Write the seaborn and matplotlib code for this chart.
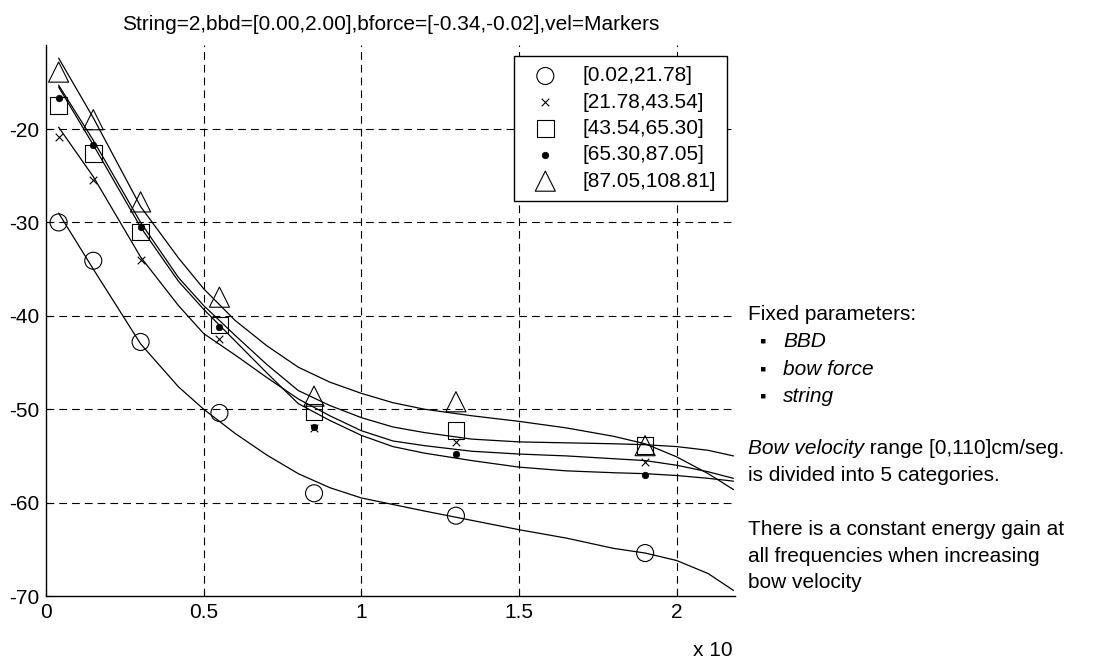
import numpy as np
import pandas as pd
import matplotlib
matplotlib.use("Agg")
import matplotlib.pyplot as plt
import seaborn as sns

# ---------------- data ----------------
marker_x = [0.04, 0.15, 0.30, 0.55, 0.85, 1.30, 1.90]
labels = ["[0.02,21.78]", "[21.78,43.54]", "[43.54,65.30]", "[65.30,87.05]", "[87.05,108.81]"]

pts_c1 = [-30.0, -34.1, -42.8, -50.4, -59.0, -61.4, -65.4]
pts_c2 = [-20.8, -25.5, -34.0, -42.5, -52.0, -53.5, -55.7]
pts_c3 = [-17.5, -22.6, -31.0, -41.0, -50.3, -52.3, -53.9]
pts_c4 = [-16.7, -21.7, -30.5, -41.2, -51.9, -54.8, -57.0]
pts_c5 = [-13.9, -19.0, -27.8, -38.0, -48.6, -49.2, -53.9]

curve_x = [0.04, 0.15, 0.30, 0.42, 0.50, 0.60, 0.70, 0.80, 0.90, 1.00,
           1.10, 1.20, 1.35, 1.50, 1.65, 1.80, 1.90, 2.00, 2.10, 2.18]
fit_c1 = [-29.0, -35.0, -43.0, -47.6, -50.0, -52.6, -54.9, -56.9, -58.4, -59.5,
          -60.2, -60.9, -61.9, -62.9, -63.8, -64.9, -65.4, -66.2, -67.6, -69.4]
fit_c2 = [-19.8, -25.1, -33.7, -38.9, -41.9, -44.2, -46.6, -48.9, -50.7, -52.3,
          -53.4, -53.9, -54.5, -54.8, -55.0, -55.3, -55.5, -56.0, -56.7, -57.4]
fit_c3 = [-15.3, -21.2, -30.0, -35.9, -38.9, -42.1, -45.2, -48.0, -49.6, -50.9,
          -51.9, -52.5, -53.2, -53.5, -53.6, -53.7, -53.8, -54.0, -54.4, -55.0]
fit_c4 = [-15.5, -21.7, -30.5, -36.3, -39.3, -42.7, -46.1, -49.4, -51.2, -52.8,
          -54.0, -54.7, -55.5, -56.2, -56.6, -56.8, -56.9, -57.1, -57.4, -57.7]
fit_c5 = [-12.4, -18.8, -28.3, -33.8, -37.1, -40.5, -43.2, -45.5, -47.1, -48.3,
          -49.3, -50.0, -50.7, -51.3, -52.0, -52.9, -53.7, -55.1, -56.9, -58.6]

x_ticks = [0, 0.5, 1, 1.5, 2]
x_tick_labels = ["0", "0.5", "1", "1.5", "2"]
y_ticks = [-70, -60, -50, -40, -30, -20]
y_tick_labels = ["-70", "-60", "-50", "-40", "-30", "-20"]

title_text = "String=2,bbd=[0.00,2.00],bforce=[-0.34,-0.02],vel=Markers"

# ---------------- style ----------------
sns.set_theme(style="white")
plt.rcParams["font.family"] = ["Liberation Sans", "DejaVu Sans"]
plt.rcParams["text.color"] = "black"
plt.rcParams["axes.labelcolor"] = "black"
plt.rcParams["xtick.color"] = "black"
plt.rcParams["ytick.color"] = "black"
FS = 15

points = [pts_c1, pts_c2, pts_c3, pts_c4, pts_c5]
fits = [fit_c1, fit_c2, fit_c3, fit_c4, fit_c5]
mstyles = [
    dict(marker="o", s=150, facecolor="none", edgecolor="black", linewidth=0.8),
    dict(marker="x", s=30, color="black", linewidth=0.8),
    dict(marker="s", s=140, facecolor="none", edgecolor="black", linewidth=0.8),
    dict(marker="o", s=22, color="black", edgecolor="black", linewidth=0.5),
    dict(marker="^", s=210, facecolor="none", edgecolor="black", linewidth=0.8),
]

fig = plt.figure(figsize=(11.18, 6.61), dpi=100)
ax = fig.add_axes([46 / 1118, 1 - 596 / 661, (735 - 46) / 1118, (596 - 45) / 661])

for xs in x_ticks[1:]:
    ax.axvline(xs, color="black", linestyle=(0, (7, 4.5)), linewidth=0.8, zorder=0)
for ys in y_ticks[1:]:
    ax.axhline(ys, color="black", linestyle=(0, (7, 4.5)), linewidth=0.8, zorder=0)

for fit in fits:
    sns.lineplot(x=curve_x, y=fit, ax=ax, color="black", linewidth=0.9, zorder=2)

for pts, lab, st in zip(points, labels, mstyles):
    sns.scatterplot(x=marker_x, y=pts, ax=ax, label=lab, zorder=3, **st)

ax.set_xlim(0, 2.185)
ax.set_ylim(-70, -11)
ax.set_xticks(x_ticks)
ax.set_xticklabels(x_tick_labels)
ax.set_yticks(y_ticks)
ax.set_yticklabels(y_tick_labels)
ax.tick_params(axis="both", direction="in", length=4, width=0.8, colors="black",
               labelcolor="black", labelsize=FS, pad=5, left=True, bottom=True)
for side in ["top", "right"]:
    ax.spines[side].set_visible(False)
for side in ["left", "bottom"]:
    ax.spines[side].set_color("black")
    ax.spines[side].set_linewidth(1.0)
ax.grid(False)
ax.set_xlabel("")
ax.set_ylabel("")

ax.set_title(title_text, fontsize=FS, pad=11, color="black")

leg = ax.legend(loc="upper right", bbox_to_anchor=(0.988, 0.98), borderaxespad=0,
                fontsize=FS, frameon=True, fancybox=False, framealpha=1,
                edgecolor="black", labelspacing=0.35, handletextpad=0.8,
                borderpad=0.5, handlelength=2.0, labelcolor="black")
leg.get_frame().set_linewidth(1.0)

fig.text(733 / 1118, 1 - 656 / 661, "x 10", ha="right", va="baseline", fontsize=FS, color="black")

# ---------------- right-hand notes ----------------
X0 = 748 / 1118
def fy(py):
    return 1 - py / 661

fig.text(X0, fy(320), "Fixed parameters:", fontsize=FS, va="baseline", color="black")
for py, word in [(347, "BBD"), (375, "bow force"), (402, "string")]:
    fig.text(760 / 1118, fy(py), "\u25aa", fontsize=FS - 2, va="baseline", color="black")
    fig.text(783 / 1118, fy(py), word, fontsize=FS, va="baseline", style="italic", color="black")

t1 = fig.text(X0, fy(454), "Bow velocity", fontsize=FS, va="baseline", style="italic", color="black")
fig.canvas.draw()
bb = t1.get_window_extent(renderer=fig.canvas.get_renderer())
fig.text(bb.x1 / fig.bbox.width, fy(454), " range [0,110]cm/seg.", fontsize=FS, va="baseline", color="black")
fig.text(X0, fy(481), "is divided into 5 categories.", fontsize=FS, va="baseline", color="black")
fig.text(X0, fy(535), "There is a constant energy gain at", fontsize=FS, va="baseline", color="black")
fig.text(X0, fy(562), "all frequencies when increasing", fontsize=FS, va="baseline", color="black")
fig.text(X0, fy(588), "bow velocity", fontsize=FS, va="baseline", color="black")

fig.savefig("out.png", dpi=100, facecolor="white")
